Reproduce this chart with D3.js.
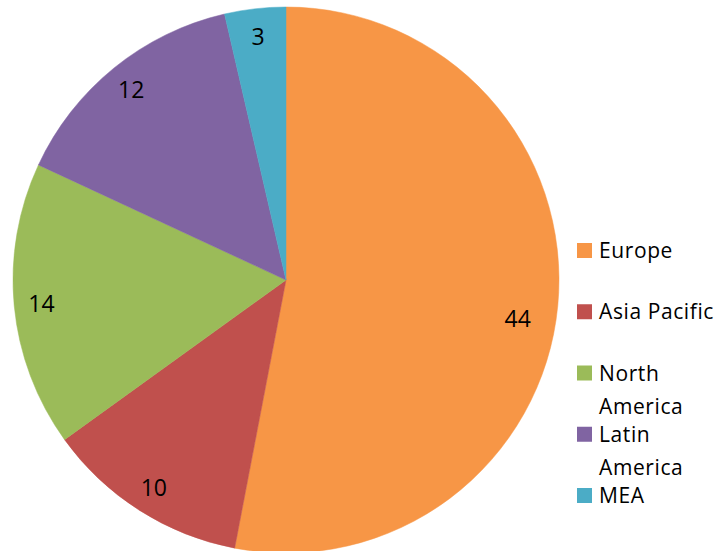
<!DOCTYPE html>
<html>
<head>
<meta charset="utf-8">
<script src="https://cdn.jsdelivr.net/npm/d3@7"></script>
<style>
  html, body { margin: 0; padding: 0; background: #fff; }
  svg { display: block; }
  text { font-family: "Open Sans", "Liberation Sans", sans-serif; fill: #000; }
</style>
</head>
<body>
<svg id="chart" width="722" height="551"></svg>
<script>
const categories = ["Europe", "Asia Pacific", "North America", "Latin America", "MEA"];
const values = [44, 10, 14, 12, 3];
const colors = ["#F79646", "#C0504D", "#9BBB59", "#8064A2", "#4BACC6"];

const W = 722, H = 551;
const cx = 286, cy = 280, R = 273;

const svg = d3.select("#chart");
const g = svg.append("g").attr("transform", `translate(${cx},${cy})`);

const data = categories.map((c, i) => ({ name: c, value: values[i], color: colors[i] }));
const pie = d3.pie().value(d => d.value).sort(null).startAngle(0).endAngle(2 * Math.PI);
const arcs = pie(data);
const arc = d3.arc().innerRadius(0).outerRadius(R);

g.selectAll("path.slice").data(arcs).enter().append("path")
  .attr("class", "slice")
  .attr("d", arc)
  .attr("fill", d => d.data.color)
  .attr("stroke", d => d.data.color)
  .attr("stroke-width", 0.5);

// label placement (Excel "best fit"-like): radius fraction and angle shift per slice
const labelFrac = [0.86, 0.9, 0.9, 0.9, 0.9];
const labelShift = [3.9, 0, 0, 0, 0]; // degrees
g.selectAll("text.lbl").data(arcs).enter().append("text")
  .attr("class", "lbl")
  .attr("text-anchor", "middle")
  .attr("dominant-baseline", "central")
  .style("font-size", "23px")
  .attr("transform", (d, i) => {
    const a = (d.startAngle + d.endAngle) / 2 + labelShift[i] * Math.PI / 180;
    const r = R * labelFrac[i];
    return `translate(${r * Math.sin(a)},${-r * Math.cos(a)})`;
  })
  .text(d => d.data.value);

// legend
const legX = 577, textX = 599, firstBase = 258, step = 61.25, lineH = 33, maxW = W - textX;
const leg = svg.append("g").style("font-size", "21px").style("letter-spacing", "0.6px");
data.forEach((d, i) => {
  const base = firstBase + i * step;
  leg.append("rect").attr("x", legX).attr("y", base - 15).attr("width", 15).attr("height", 15).attr("fill", d.color);
  const t = leg.append("text").attr("x", textX).attr("y", base).text(d.name);
  if (t.node().getComputedTextLength() > maxW) {
    const words = d.name.split(" ");
    t.text(null);
    words.forEach((w, k) => {
      t.append("tspan").attr("x", textX).attr("y", base + k * lineH).text(w);
    });
  }
});
</script>
</body>
</html>
